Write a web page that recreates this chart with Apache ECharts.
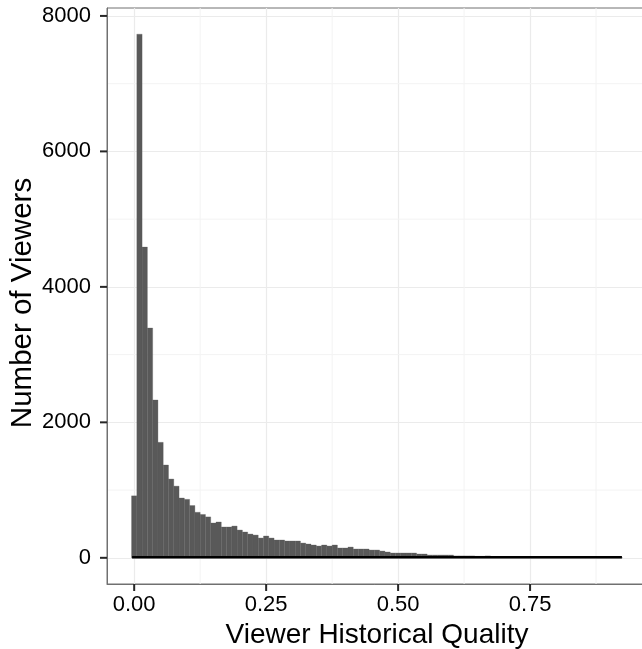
<!DOCTYPE html>
<html>
<head>
<meta charset="utf-8">
<script src="https://cdn.jsdelivr.net/npm/echarts@6/dist/echarts.min.js"></script>
<style>
html,body{margin:0;padding:0;background:#fff;}
#chart{width:642px;height:649px;}
</style>
</head>
<body>
<div id="chart"></div>
<script>
// Histogram definition (bin width 0.01, first bin centred on 0.00)
var binWidth = 0.01;
var firstBinCenter = 0.00;
var counts = [
  915, 7730, 4587, 3392, 2330, 1705, 1370, 1163, 1058, 883,
  863, 772, 672, 640, 604, 514, 529, 455, 455, 469,
  410, 381, 351, 336, 292, 322, 292, 263, 263, 248,
  248, 248, 218, 204, 189, 174, 189, 174, 189, 145,
  145, 159, 130, 130, 130, 115, 115, 100, 86, 71,
  71, 71, 71, 71, 56, 56, 41, 41, 41, 41,
  41, 28, 28, 28, 28, 22, 22, 28, 15, 14,
  14, 12, 12, 11, 10, 10, 9, 8, 8, 7,
  7, 6, 6, 5, 5, 4, 4, 4, 3, 3,
  3, 2, 2
];
// flat black reference line along the bottom
var lineX = [-0.004, 0.924];
var lineY = [8, 8];

var xTicks = [0, 0.25, 0.5, 0.75];
var xMinorTicks = [0.125, 0.375, 0.625, 0.875];
var yTicks = [0, 2000, 4000, 6000, 8000];
var yMinorTicks = [1000, 3000, 5000, 7000];
var xTitle = 'Viewer Historical Quality';
var yTitle = 'Number of Viewers';

var xMin = -0.0515, xMax = 0.9715;
var yMin = -386.5, yMax = 8117;

var histData = counts.map(function (c, i) {
  var center = firstBinCenter + i * binWidth;
  return [center - binWidth / 2, center + binWidth / 2, c];
});
var lineData = lineX.map(function (x, i) { return [x, lineY[i]]; });

var FONT = '"Liberation Sans", Arial, Helvetica, sans-serif';
var MINOR = '#f3f3f3';
var TICK_LEN = 7;
var chart = echarts.init(document.getElementById('chart'), null, {renderer: 'canvas'});

// minor grid lines (inside the panel) and outer tick marks, placed by the axes' scales
function axisMarks(values, vertical, kind) {
  return {
    type: 'custom',
    silent: true,
    clip: false,
    data: values.map(function (v) { return [v]; }),
    renderItem: function (params, api) {
      var cs = params.coordSys;
      var v = api.value(0);
      var shape;
      if (vertical) {
        var px = api.coord([v, 0])[0];
        shape = kind === 'tick'
          ? {x1: px, y1: cs.y + cs.height, x2: px, y2: cs.y + cs.height + TICK_LEN}
          : {x1: px, y1: cs.y, x2: px, y2: cs.y + cs.height};
      } else {
        var py = api.coord([0, v])[1];
        shape = kind === 'tick'
          ? {x1: cs.x - TICK_LEN, y1: py, x2: cs.x, y2: py}
          : {x1: cs.x, y1: py, x2: cs.x + cs.width, y2: py};
      }
      return {
        type: 'line', shape: shape,
        style: kind === 'tick' ? {stroke: '#262626', lineWidth: 2} : {stroke: MINOR, lineWidth: 1}
      };
    },
    z: kind === 'tick' ? 4 : 0
  };
}

chart.setOption({
  animation: false,
  backgroundColor: '#ffffff',
  grid: {
    left: 107, top: 8, right: -5, bottom: 65,
    outerBoundsMode: 'none',
    show: true, borderColor: '#707070', borderWidth: 1, backgroundColor: 'transparent'
  },
  xAxis: {
    type: 'value', min: xMin, max: xMax, position: 'bottom',
    axisLine: {show: true, onZero: false, lineStyle: {color: '#707070', width: 1}},
    axisTick: {show: false, customValues: xTicks},
    axisLabel: {customValues: xTicks, margin: 10, color: '#000000', fontSize: 22, fontFamily: FONT,
      formatter: function (v) { return v.toFixed(2); }},
    splitLine: {show: true, lineStyle: {color: '#ebebeb', width: 1.2}},
    name: xTitle, nameLocation: 'middle', nameGap: 35,
    nameTextStyle: {color: '#000000', fontSize: 28, fontFamily: FONT}
  },
  yAxis: {
    type: 'value', min: yMin, max: yMax, position: 'left',
    axisLine: {show: true, onZero: false, lineStyle: {color: '#707070', width: 1}},
    axisTick: {show: false, customValues: yTicks},
    axisLabel: {customValues: yTicks, margin: 16, color: '#000000', fontSize: 22, fontFamily: FONT,
      formatter: function (v) { return String(v); }},
    splitLine: {show: true, lineStyle: {color: '#ebebeb', width: 1.2}},
    name: yTitle, nameLocation: 'middle', nameGap: 69, nameRotate: 90, nameMoveOverlap: false,
    nameTextStyle: {color: '#000000', fontSize: 29.5, fontFamily: FONT, padding: [0, 14, 0, 0]}
  },
  series: [
    axisMarks(xMinorTicks, true, 'grid'),
    axisMarks(yMinorTicks, false, 'grid'),
    {
      type: 'custom',
      data: histData,
      renderItem: function (params, api) {
        var p0 = api.coord([api.value(0), api.value(2)]);
        var p1 = api.coord([api.value(1), 0]);
        return {
          type: 'rect',
          shape: {x: p0[0], y: p0[1], width: p1[0] - p0[0], height: p1[1] - p0[1]},
          style: {fill: '#595959', stroke: '#595959', lineWidth: 0.3}
        };
      },
      z: 2
    }, {
      type: 'line',
      data: lineData,
      symbol: 'none',
      lineStyle: {color: '#000000', width: 2.5},
      z: 3
    },
    axisMarks(xTicks, true, 'tick'),
    axisMarks(yTicks, false, 'tick')
  ]
});
</script>
</body>
</html>
